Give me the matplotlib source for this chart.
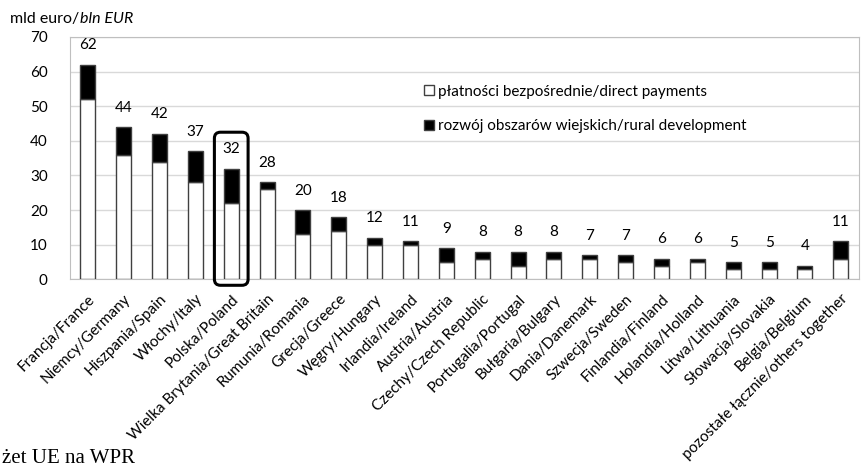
import matplotlib.pyplot as plt
from matplotlib.patches import FancyBboxPatch
from matplotlib.transforms import offset_copy

plt.rcParams['font.family'] = ['Lato', 'DejaVu Sans']

# data (bln EUR)
countries = ['Francja/France', 'Niemcy/Germany', 'Hiszpania/Spain', 'Włochy/Italy', 'Polska/Poland',
             'Wielka Brytania/Great Britain', 'Rumunia/Romania', 'Grecja/Greece', 'Węgry/Hungary',
             'Irlandia/Ireland', 'Austria/Austria', 'Czechy/Czech Republic', 'Portugalia/Portugal',
             'Bułgaria/Bulgary', 'Dania/Danemark', 'Szwecja/Sweden', 'Finlandia/Finland',
             'Holandia/Holland', 'Litwa/Lithuania', 'Słowacja/Slovakia', 'Belgia/Belgium',
             'pozostałe łącznie/others together']
totals = [62, 44, 42, 37, 32, 28, 20, 18, 12, 11, 9, 8, 8, 8, 7, 7, 6, 6, 5, 5, 4, 11]
direct = [52, 36, 34, 28, 22, 26, 13, 14, 10, 10, 5, 6, 4, 6, 6, 5, 4, 5, 3, 3, 3, 6]
rural = [t - d for t, d in zip(totals, direct)]

fig = plt.figure(figsize=(8.63, 4.68), dpi=100)
ax = fig.add_axes([0.081, 0.403, 0.914, 0.518])

x = range(len(countries))
ax.bar(x, direct, width=0.42, color='white', edgecolor='#404040', linewidth=1,
       label='płatności bezpośrednie/direct payments', zorder=3)
ax.bar(x, rural, width=0.42, bottom=direct, color='black', edgecolor='#404040', linewidth=1,
       label='rozwój obszarów wiejskich/rural development', zorder=3)

for i, t in enumerate(totals):
    ax.text(i, t + 3.6, str(t), ha='center', va='bottom', fontsize=11)

ax.set_ylim(0, 70)
ax.set_xlim(-0.5, len(countries) - 0.5)
ax.set_yticks(range(0, 71, 10))
ax.yaxis.grid(True, color='#d9d9d9', linewidth=1, zorder=0)
ax.tick_params(axis='both', length=0, labelsize=11)
ax.tick_params(axis='y', pad=16)
ax.tick_params(axis='x', pad=9)
for s in ax.spines.values():
    s.set_color('#bfbfbf')
ax.set_xticks(list(x))
ax.set_xticklabels(countries, rotation=45, ha='right', rotation_mode='anchor', fontsize=11)

# frame around Poland
box = FancyBboxPatch((4 - 0.47, -1.7), 0.94, 44.2, boxstyle='round,pad=0,rounding_size=0.17',
                     fill=False, edgecolor='black', linewidth=2.2, clip_on=False, zorder=5,
                     mutation_aspect=10.4)
ax.add_patch(box)

ax.legend(loc='upper left', bbox_to_anchor=(0.432, 0.86), frameon=False, fontsize=11,
          handlelength=0.6, handleheight=0.6, handletextpad=0.3, labelspacing=1.35)

t1 = fig.text(0.012, 0.95, 'mld euro/', fontsize=11.5)
fig.canvas.draw()
w = t1.get_window_extent().width
fig.text(0.012, 0.95, 'bln EUR', fontsize=11.5, style='italic',
         transform=offset_copy(fig.transFigure, fig=fig, x=w, y=0, units='dots'))
fig.text(0.002, 0.01, 'żet UE na WPR', fontsize=15, family='Liberation Serif')

fig.savefig('out.png', dpi=100)
